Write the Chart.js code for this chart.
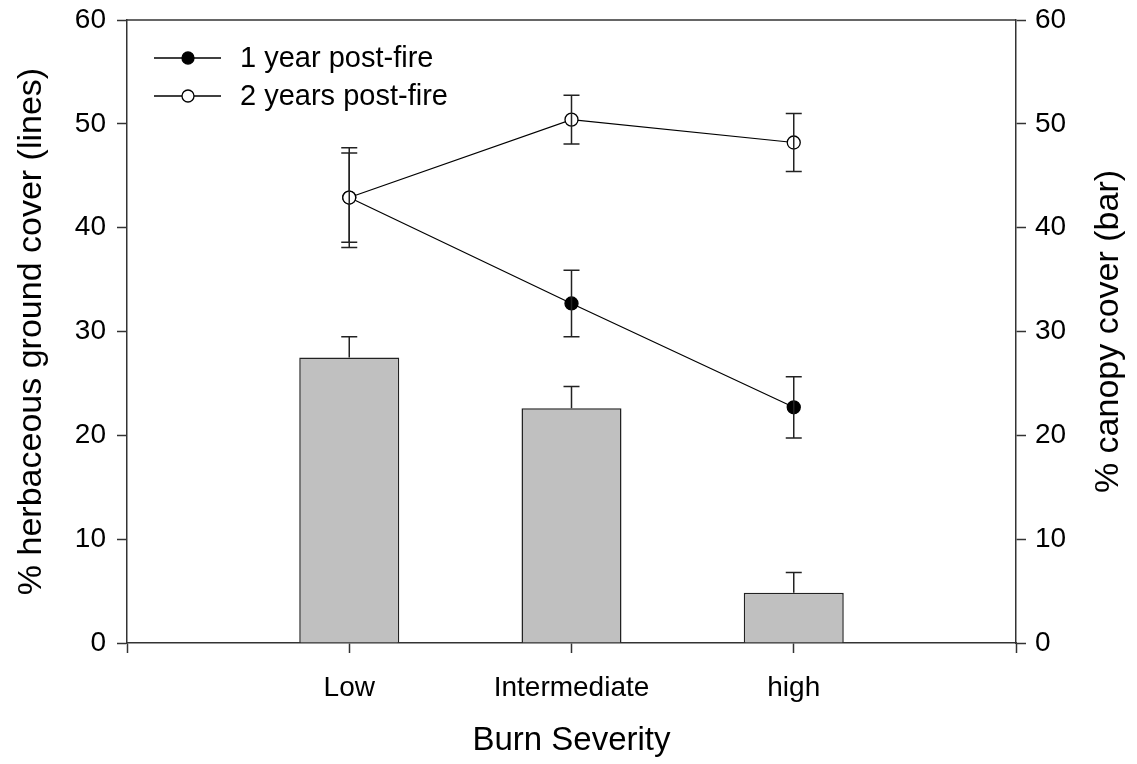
<!DOCTYPE html>
<html>
<head>
<meta charset="utf-8">
<title>Burn severity</title>
<script src="https://cdn.jsdelivr.net/npm/chart.js@4.4.1/dist/chart.umd.min.js"></script>
<style>
  html, body { margin: 0; padding: 0; background: #fff; }
  #wrap { width: 1137px; height: 764px; }
</style>
</head>
<body>
<div id="wrap"><canvas id="burnChart" width="1137" height="764"></canvas></div>
<script>
// Data
const categories = ['Low', 'Intermediate', 'high'];
const categoryPos = [1, 2, 3];
const canopyCover = [27.5, 22.6, 4.85];   // bars, right axis
const canopyErr = [2.0, 2.1, 1.95];
const year1 = [42.9, 32.7, 22.7];          // 1 year post-fire
const year1Err = [4.8, 3.2, 2.95];
const year2 = [42.9, 50.4, 48.2];          // 2 years post-fire
const year2Err = [4.3, 2.35, 2.8];
const yTicks = [0, 10, 20, 30, 40, 50, 60];
const xTicks = [0, 1, 2, 3, 4];
const rightTitle = '% canopy cover (bar)';

const FONT = "'Liberation Sans', Arial, sans-serif";
const INK = '#222';

function points(vals) {
  return vals.map(function(v, i) { return { x: categoryPos[i], y: v }; });
}

// error bars for every dataset that has an err array
const errorBars = {
  id: 'errorBars',
  afterDatasetDraw: function(chart, args) {
    const ds = chart.data.datasets[args.index];
    if (!ds.err) return;
    const meta = args.meta;
    const yScale = chart.scales[meta.yAxisID];
    const ctx = chart.ctx;
    const cap = 8;
    ctx.save();
    ctx.strokeStyle = INK;
    ctx.lineWidth = 1.5;
    meta.data.forEach(function(el, i) {
      const x = el.x;
      const v = ds.data[i].y;
      const top = yScale.getPixelForValue(v + ds.err[i]);
      const bot = ds.upperOnly ? yScale.getPixelForValue(v) : yScale.getPixelForValue(v - ds.err[i]);
      ctx.beginPath();
      ctx.moveTo(x, top); ctx.lineTo(x, bot);
      ctx.moveTo(x - cap, top); ctx.lineTo(x + cap, top);
      if (!ds.upperOnly) { ctx.moveTo(x - cap, bot); ctx.lineTo(x + cap, bot); }
      ctx.stroke();
    });
    ctx.restore();
  }
};

// top frame line, right axis title (reads bottom to top) and legend
const frameAndLegend = {
  id: 'frameAndLegend',
  afterDraw: function(chart) {
    const ctx = chart.ctx;
    const a = chart.chartArea;
    ctx.save();
    ctx.strokeStyle = '#333';
    ctx.lineWidth = 1.5;
    ctx.beginPath();
    ctx.moveTo(a.left, a.top);
    ctx.lineTo(a.right, a.top);
    ctx.stroke();

    // right title
    ctx.save();
    ctx.translate(chart.width - 28, (a.top + a.bottom) / 2);
    ctx.rotate(-Math.PI / 2);
    ctx.fillStyle = '#000';
    ctx.font = '34px ' + FONT;
    ctx.textAlign = 'center';
    ctx.textBaseline = 'middle';
    ctx.fillText(rightTitle, 0, 0);
    ctx.restore();

    const rows = chart.data.datasets.filter(function(d) { return d.type === 'line'; });
    rows.forEach(function(ds, i) {
      const y = a.top + 38 + i * 38;
      ctx.strokeStyle = '#000';
      ctx.lineWidth = 1.3;
      ctx.beginPath();
      ctx.moveTo(a.left + 27, y);
      ctx.lineTo(a.left + 94, y);
      ctx.stroke();
      ctx.beginPath();
      ctx.arc(a.left + 61, y, 6, 0, Math.PI * 2);
      ctx.fillStyle = ds.pointBackgroundColor;
      ctx.fill();
      ctx.lineWidth = 1.3;
      ctx.stroke();
      ctx.fillStyle = '#000';
      ctx.font = '29px ' + FONT;
      ctx.textBaseline = 'middle';
      ctx.textAlign = 'left';
      ctx.fillText(ds.label, a.left + 113, y + 1);
    });
    ctx.restore();
  }
};

function noEdgePadding(scale) {
  scale.paddingTop = 0;
  scale.paddingBottom = 0;
  scale.paddingLeft = 0;
  scale.paddingRight = 0;
}

const ctx = document.getElementById('burnChart').getContext('2d');
const burnChart = new Chart(ctx, {
  type: 'bar',
  data: {
    datasets: [
      {
        type: 'line',
        label: '1 year post-fire',
        data: points(year1),
        err: year1Err,
        yAxisID: 'y',
        borderColor: '#000',
        borderWidth: 1.2,
        pointRadius: 6.5,
        pointBorderWidth: 1.3,
        pointBackgroundColor: '#000',
        pointBorderColor: '#000',
        order: 1
      },
      {
        type: 'line',
        label: '2 years post-fire',
        data: points(year2),
        err: year2Err,
        yAxisID: 'y',
        borderColor: '#000',
        borderWidth: 1.2,
        pointRadius: 6.5,
        pointBorderWidth: 1.3,
        pointBackgroundColor: '#fff',
        pointBorderColor: '#000',
        order: 0
      },
      {
        type: 'bar',
        label: 'canopy cover',
        data: points(canopyCover),
        err: canopyErr,
        upperOnly: true,
        yAxisID: 'y2',
        backgroundColor: '#c0c0c0',
        borderColor: INK,
        borderWidth: 1.5,
        borderSkipped: 'bottom',
        categoryPercentage: 1,
        barPercentage: 0.45,
        order: 2
      }
    ]
  },
  options: {
    responsive: false,
    animation: false,
    layout: { padding: { top: 20, left: 0, right: 0, bottom: 0 } },
    plugins: {
      legend: { display: false },
      tooltip: { enabled: false }
    },
    scales: {
      x: {
        type: 'linear',
        min: 0,
        max: 4,
        offset: false,
        afterBuildTicks: function(scale) {
          scale.ticks = xTicks.map(function(v) { return { value: v }; });
        },
        afterFit: function(scale) { scale.height = 121; noEdgePadding(scale); },
        grid: { drawOnChartArea: false, offset: false, tickLength: 10, color: '#333', tickWidth: 1.5 },
        border: { color: '#333', width: 1.5 },
        ticks: {
          color: '#000',
          font: { family: FONT, size: 28 },
          padding: 18,
          autoSkip: false,
          maxRotation: 0,
          callback: function(v) {
            const i = categoryPos.indexOf(v);
            return i >= 0 ? categories[i] : '';
          }
        },
        title: {
          display: true,
          text: 'Burn Severity',
          color: '#000',
          font: { family: FONT, size: 33 },
          padding: { top: 0, bottom: 3 }
        }
      },
      y: {
        position: 'left',
        min: 0,
        max: 60,
        afterBuildTicks: function(scale) {
          scale.ticks = yTicks.map(function(v) { return { value: v }; });
        },
        afterFit: function(scale) { scale.width = 127; noEdgePadding(scale); },
        grid: { drawOnChartArea: false, tickLength: 10, color: '#333', tickWidth: 1.5 },
        border: { color: '#333', width: 1.5 },
        ticks: { color: '#000', font: { family: FONT, size: 28 }, padding: 11 },
        title: {
          display: true,
          text: '% herbaceous ground cover (lines)',
          color: '#000',
          font: { family: FONT, size: 34 },
          padding: { top: 11, bottom: 0 }
        }
      },
      y2: {
        position: 'right',
        min: 0,
        max: 60,
        afterBuildTicks: function(scale) {
          scale.ticks = yTicks.map(function(v) { return { value: v }; });
        },
        afterFit: function(scale) { scale.width = 121; noEdgePadding(scale); },
        grid: { drawOnChartArea: false, tickLength: 10, color: '#333', tickWidth: 1.5 },
        border: { color: '#333', width: 1.5 },
        ticks: { color: '#000', font: { family: FONT, size: 28 }, padding: 9 }
      }
    }
  },
  plugins: [errorBars, frameAndLegend]
});
</script>
</body>
</html>
